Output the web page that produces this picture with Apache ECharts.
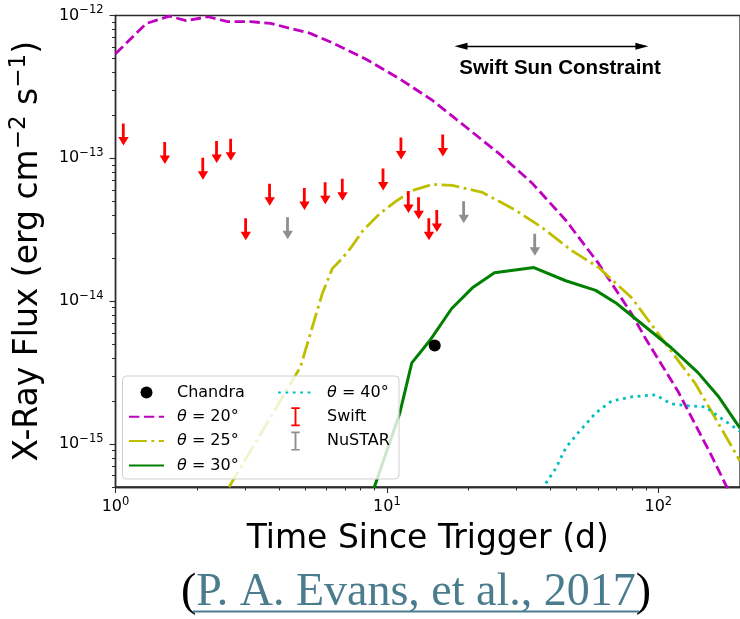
<!DOCTYPE html>
<html>
<head>
<meta charset="utf-8">
<script src="https://cdn.jsdelivr.net/npm/echarts@6/dist/echarts.min.js"></script>
<style>
html,body{margin:0;padding:0;background:#fff;}
#c{width:740px;height:619px;}
</style>
</head>
<body>
<div id="c"></div>
<script>
// ---------------- data ----------------
const xMajorTicks = [1, 10, 100];
const yMajorTicks = [1e-15, 1e-14, 1e-13, 1e-12];

const chandraT = [15.0];
const chandraF = [4.9e-15];

const swiftT = [1.07, 1.52, 2.10, 2.36, 2.66, 3.02, 3.70, 4.97, 5.93, 6.86, 9.69, 11.28, 12.01, 13.10, 14.29, 15.29, 16.08];
const swiftF = [1.75e-13, 1.30e-13, 1.01e-13, 1.32e-13, 1.37e-13, 3.8e-14, 6.65e-14, 6.2e-14, 6.8e-14, 7.2e-14, 8.5e-14, 1.40e-13, 5.9e-14, 5.35e-14, 3.8e-14, 4.35e-14, 1.47e-13];

const nustarT = [4.31, 19.2, 35.1];
const nustarF = [3.87e-14, 5.0e-14, 2.96e-14];

const theta20T = [1.0, 1.30, 1.58, 1.82, 2.19, 2.59, 3.15, 3.73, 5.22, 6.34, 8.45, 11.2, 14.7, 19.6, 25.9, 34.3, 45.7, 60.3, 79.6, 89.6, 118, 156, 177, 186];
const theta20F = [5.4e-13, 8.8e-13, 9.9e-13, 9.2e-13, 9.8e-13, 9.05e-13, 9.05e-13, 8.8e-13, 7.5e-13, 6.4e-13, 4.9e-13, 3.58e-13, 2.55e-13, 1.65e-13, 1.08e-13, 6.7e-14, 3.67e-14, 1.83e-14, 8.2e-15, 5.5e-15, 2.35e-15, 8.5e-16, 5.2e-16, 4.4e-16];

const theta25T = [2.62, 4.80, 5.78, 6.29, 6.84, 7.32, 8.16, 9.42, 10.9, 12.45, 14.7, 17.4, 22.5, 29.9, 37.3, 48.0, 60.3, 79.6, 102.5, 137, 170, 200];
const theta25F = [5.0e-16, 3.46e-15, 1.13e-14, 1.69e-14, 1.99e-14, 2.33e-14, 3.12e-14, 4.11e-14, 5.07e-14, 5.96e-14, 6.57e-14, 6.47e-14, 5.77e-14, 4.31e-14, 3.28e-14, 2.26e-14, 1.72e-14, 1.06e-14, 5.55e-15, 2.64e-15, 1.3e-15, 7.6e-16];

const theta30T = [8.96, 11.16, 12.35, 14.37, 17.3, 20.65, 24.9, 34.8, 45.6, 58.8, 69.6, 82.4, 111.6, 140, 166, 200];
const theta30F = [4.9e-16, 1.65e-15, 3.7e-15, 5.28e-15, 8.85e-15, 1.24e-14, 1.58e-14, 1.72e-14, 1.39e-14, 1.19e-14, 9.76e-15, 7.53e-15, 4.72e-15, 3.16e-15, 2.17e-15, 1.29e-15];

const theta40T = [38.5, 42, 45.6, 50.9, 58.8, 67.3, 79.7, 97.5, 111.6, 129, 149, 170, 200];
const theta40F = [5.3e-16, 6.8e-16, 9.4e-16, 1.21e-15, 1.65e-15, 2.0e-15, 2.14e-15, 2.21e-15, 1.91e-15, 1.85e-15, 1.82e-15, 1.52e-15, 1.23e-15];

const sunConstraintT = [18.75, 87.0];
const sunConstraintF = 6.1e-13;

// ---------------- helpers ----------------
const zip = (a, b) => a.map((v, i) => [v, b[i]]);
const fam = "'DejaVu Sans', 'Noto Sans', sans-serif";

function minorTicks(lo, hi) {
  const out = [];
  for (let e = -16; e <= 3; e++) {
    for (let m = 2; m <= 9; m++) {
      const v = m * Math.pow(10, e);
      if (v >= lo * 0.999 && v <= hi * 1.001) out.push(+v.toPrecision(3));
    }
  }
  return out;
}
const X_MIN = 1, X_MAX = 200, Y_MIN = 5e-16, Y_MAX = 1e-12;

const tickRich = {
  b: { fontSize: 16, lineHeight: 22, fontFamily: fam, color: '#000' },
  s: { fontSize: 11.5, lineHeight: 12, verticalAlign: 'top', fontFamily: fam, color: '#000' }
};
const expOf = v => Math.round(Math.log10(v));
const supText = n => (n < 0 ? '\u2212' + (-n) : String(n));

const arrowPath = 'path://M3.6,0H6.4V13.5H10.4L5.2,22L0,13.5H3.6Z';
const ibeamPath = 'path://M0,0H8V1.6H4.9V16.4H8V18H0V16.4H3.1V1.6H0Z';
const triPath = 'path://M5,0L10,13L0,13Z';

const lw = 2.8;
const axisCol = '#2b2b2b';

const chart = echarts.init(document.getElementById('c'), null, { renderer: 'canvas' });

const legendText = {
  fontSize: 16, fontFamily: fam, color: '#000', lineHeight: 20, padding: [0, 0, 0, 8],
  rich: { i: { fontStyle: 'italic', fontSize: 16, fontFamily: fam, color: '#000' } }
};
const hideSym = name => ({ name: name, itemStyle: { opacity: 0 } });

const option = {
  animation: false,
  backgroundColor: '#fff',
  grid: { left: 114, top: 15.5, right: -2.2, bottom: 132, show: true, borderColor: axisCol, borderWidth: 1.3, backgroundColor: 'transparent' },
  xAxis: [
    { type: 'log', logBase: 10, min: X_MIN, max: X_MAX, position: 'bottom',
      axisLine: { show: true, lineStyle: { color: axisCol, width: 1.3 } },
      axisTick: { show: true, length: 3.5, lineStyle: { color: axisCol, width: 1 }, customValues: minorTicks(X_MIN, X_MAX) },
      axisLabel: { show: false }, splitLine: { show: false }, minorTick: { show: false } },
    { type: 'log', logBase: 10, min: X_MIN, max: X_MAX, position: 'bottom',
      axisLine: { show: true, lineStyle: { color: axisCol, width: 1.3 } },
      axisTick: { show: true, length: 6, lineStyle: { color: axisCol, width: 1.1 }, customValues: xMajorTicks },
      axisLabel: { show: true, margin: 9, customValues: xMajorTicks, rich: tickRich,
        formatter: v => '{b|10}{s|' + supText(expOf(v)) + '}' },
      splitLine: { show: false },
      name: 'Time Since Trigger (d)', nameLocation: 'middle', nameGap: 30,
      nameTextStyle: { fontSize: 33, fontFamily: fam, color: '#000', lineHeight: 40 } }
  ],
  yAxis: [
    { type: 'log', logBase: 10, min: Y_MIN, max: Y_MAX, position: 'left',
      axisLine: { show: true, lineStyle: { color: axisCol, width: 1.3 } },
      axisTick: { show: true, length: 3.5, lineStyle: { color: axisCol, width: 1 }, customValues: minorTicks(Y_MIN, Y_MAX) },
      axisLabel: { show: false }, splitLine: { show: false } },
    { type: 'log', logBase: 10, min: Y_MIN, max: Y_MAX, position: 'left',
      axisLine: { show: true, lineStyle: { color: axisCol, width: 1.3 } },
      axisTick: { show: true, length: 6, lineStyle: { color: axisCol, width: 1.1 }, customValues: yMajorTicks },
      axisLabel: { show: true, margin: 12, customValues: yMajorTicks, rich: tickRich,
        formatter: v => '{b|10}{s|' + supText(expOf(v)) + '}' },
      splitLine: { show: false },
      name: 'X-Ray Flux (erg cm{s|\u22122} s{s|\u22121})', nameLocation: 'middle', nameGap: 62, nameRotate: 90,
      nameTextStyle: { fontSize: 33, fontFamily: fam, color: '#000', lineHeight: 40,
        rich: { s: { fontSize: 23, lineHeight: 20, verticalAlign: 'top', fontFamily: fam, color: '#000' } } } }
  ],
  legend: [
    { orient: 'vertical', left: 128, top: 382.5, padding: 0, itemGap: 4.3, itemWidth: 35, itemHeight: 12, z: 10,
      data: ['Chandra', hideSym('θ = 20°'), hideSym('θ = 25°'), hideSym('θ = 30°')],
      formatter: n => n.replace('θ', '{i|θ}'),
      textStyle: legendText },
    { orient: 'vertical', left: 277, top: 382.5, padding: 0, itemGap: 4.3, itemWidth: 35, itemHeight: 19, z: 10,
      data: [hideSym('θ = 40°'), { name: 'Swift', icon: ibeamPath }, { name: 'NuSTAR', icon: ibeamPath }],
      formatter: n => n.replace('θ', '{i|θ}'),
      textStyle: Object.assign({}, legendText, { padding: [0, 0, 0, 9] }) }
  ],
  graphic: [
    { type: 'rect', z: 8, shape: { x: 122.5, y: 376, width: 276.5, height: 103, r: 4 },
      style: { fill: 'rgba(255,255,255,0.8)', stroke: '#cfcfcf', lineWidth: 1 } },
    { type: 'text', z: 9, style: { x: 560, y: 68, text: 'Swift Sun Constraint', textAlign: 'center', textVerticalAlign: 'middle',
      font: "bold 20.5px 'Liberation Sans', Arial, sans-serif", fill: '#000' } },
    { type: 'text', z: 9, style: { x: 416, y: 593, textAlign: 'center', textVerticalAlign: 'middle',
      text: '{p|(}{l|P. A. Evans, et al., 2017}{p|)}',
      rich: { p: { fontSize: 46, fontFamily: "'Liberation Serif', 'Times New Roman', serif", fill: '#000' },
              l: { fontSize: 46, fontFamily: "'Liberation Serif', 'Times New Roman', serif", fill: '#4a7c8d' } } } },
    { type: 'rect', z: 9, shape: { x: 193, y: 610.5, width: 446, height: 2 }, style: { fill: '#4a7c8d' } }
  ],
  series: [
    { name: 'θ = 20°', type: 'line', xAxisIndex: 0, yAxisIndex: 0, data: zip(theta20T, theta20F), symbol: 'none', showSymbol: false, clip: true,
      lineStyle: { color: '#bf00bf', width: lw, type: [10.4, 4.5], cap: 'butt' }, itemStyle: { color: '#bf00bf' }, z: 2 },
    { name: 'θ = 25°', type: 'line', xAxisIndex: 0, yAxisIndex: 0, data: zip(theta25T, theta25F), symbol: 'none', showSymbol: false, clip: true,
      lineStyle: { color: '#bfbf00', width: lw, type: [17.9, 4.5, 2.8, 4.5], cap: 'butt' }, itemStyle: { color: '#bfbf00' }, z: 2 },
    { name: 'θ = 30°', type: 'line', xAxisIndex: 0, yAxisIndex: 0, data: zip(theta30T, theta30F), symbol: 'none', showSymbol: false, clip: true,
      lineStyle: { color: '#008000', width: 3, type: 'solid' }, itemStyle: { color: '#008000' }, z: 2 },
    { name: 'θ = 40°', type: 'line', xAxisIndex: 0, yAxisIndex: 0, data: zip(theta40T, theta40F), symbol: 'none', showSymbol: false, clip: true,
      lineStyle: { color: '#00bfbf', width: lw, type: [2.8, 4.6], cap: 'butt' }, itemStyle: { color: '#00bfbf' }, z: 2 },
    { name: 'Swift', type: 'scatter', xAxisIndex: 0, yAxisIndex: 0, data: zip(swiftT, swiftF), symbol: arrowPath, symbolSize: [10.4, 22], symbolOffset: [0, 11],
      itemStyle: { color: '#ff0000', opacity: 1 }, z: 3 },
    { name: 'NuSTAR', type: 'scatter', xAxisIndex: 0, yAxisIndex: 0, data: zip(nustarT, nustarF), symbol: arrowPath, symbolSize: [10.4, 22], symbolOffset: [0, 11],
      itemStyle: { color: '#8f8f8f', opacity: 1 }, z: 3 },
    { name: 'Chandra', type: 'scatter', xAxisIndex: 0, yAxisIndex: 0, data: zip(chandraT, chandraF), symbol: 'circle', symbolSize: 12,
      itemStyle: { color: '#000', opacity: 1 }, z: 3,
      markLine: { silent: true, animation: false, symbol: [triPath, triPath], symbolSize: [7, 13],
        lineStyle: { color: '#000', width: 1.4, type: 'solid' }, label: { show: false },
        data: [[{ coord: [sunConstraintT[0], sunConstraintF] }, { coord: [sunConstraintT[1], sunConstraintF] }]] } }
  ]
};
chart.setOption(option);
</script>
</body>
</html>
